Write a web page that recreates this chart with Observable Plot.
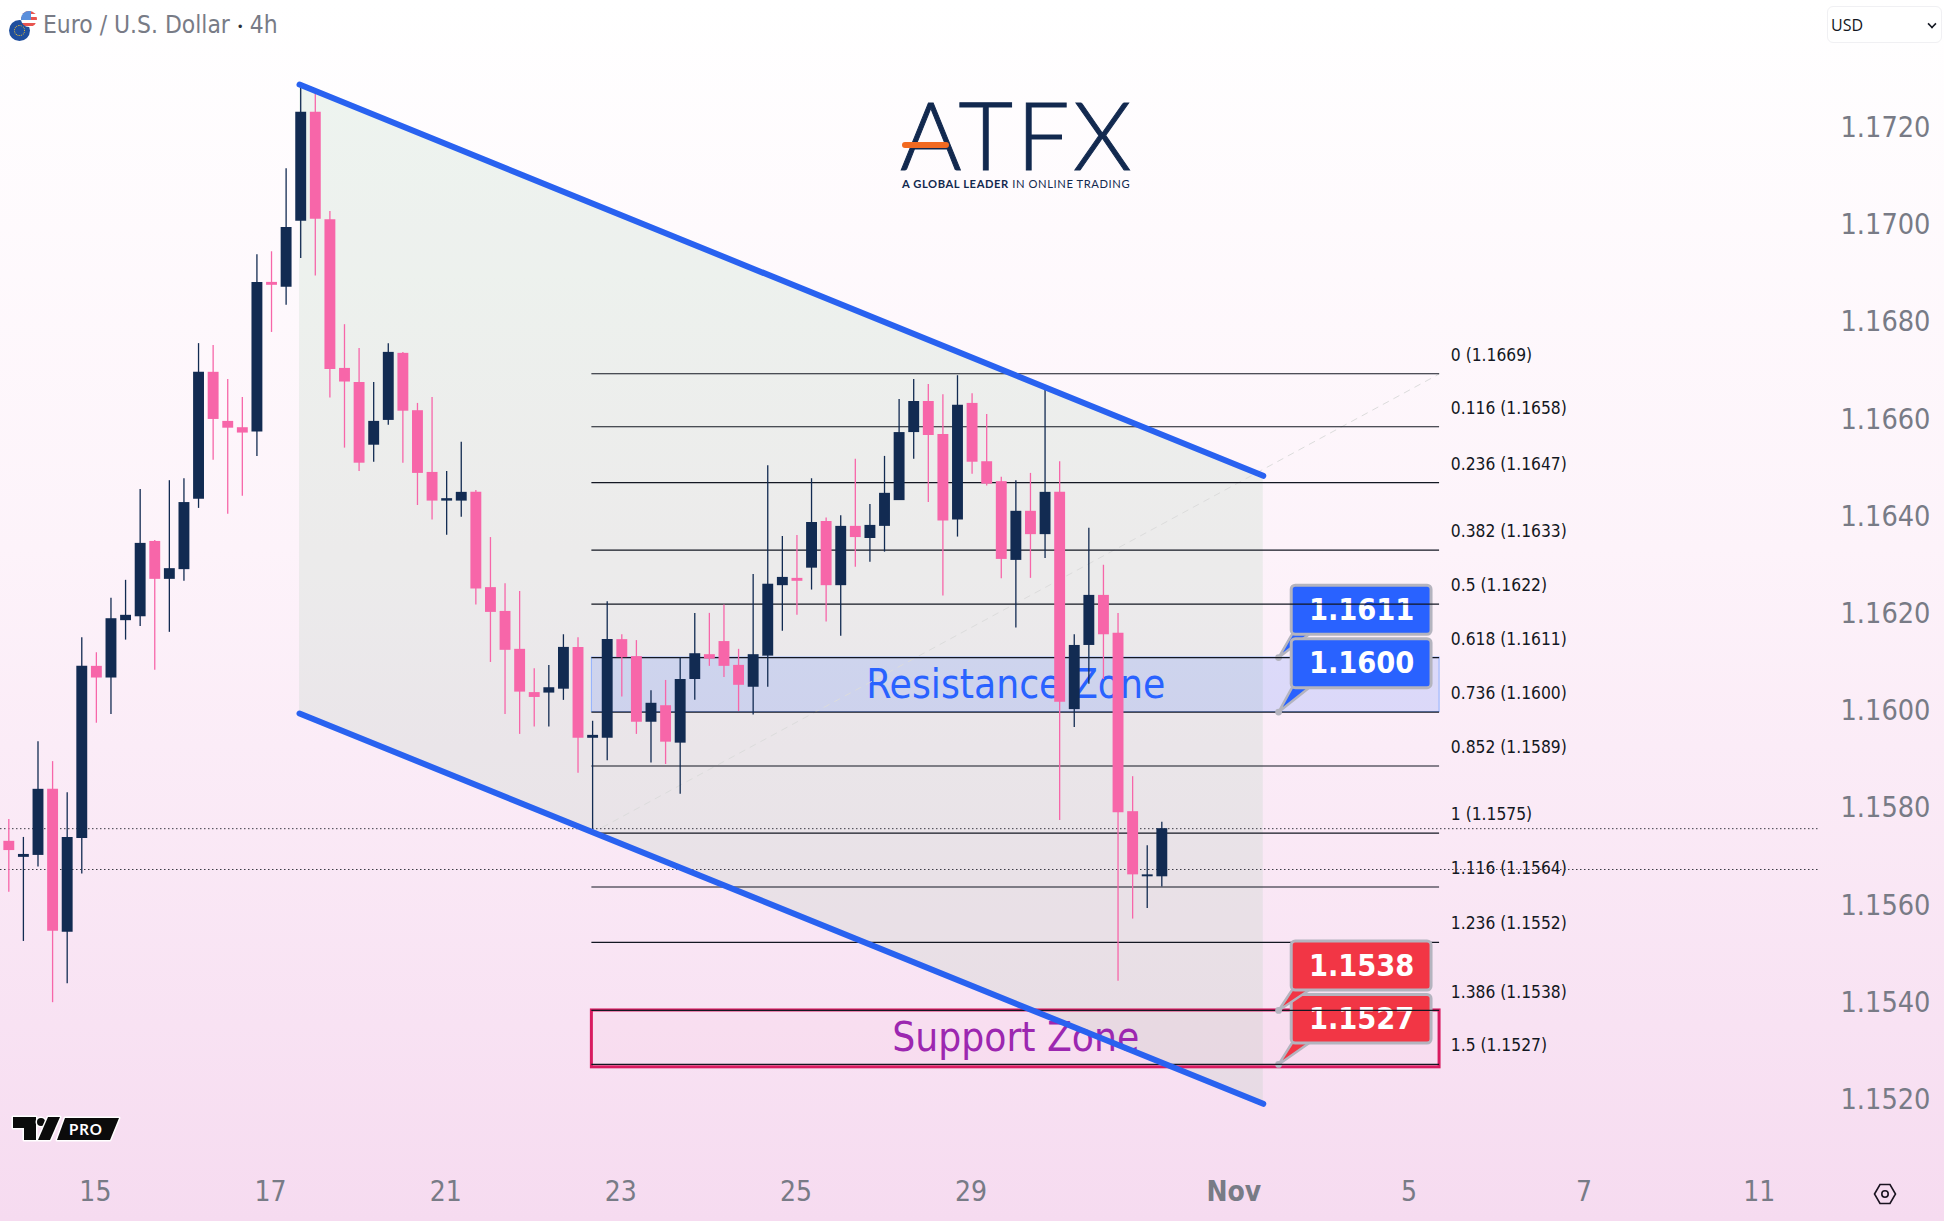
<!DOCTYPE html>
<html>
<head>
<meta charset="utf-8">
<script src="https://cdn.jsdelivr.net/npm/d3@7"></script>
<script src="https://cdn.jsdelivr.net/npm/@observablehq/plot@0.6"></script>
<style>
html,body{margin:0;padding:0;}
body{width:1944px;height:1221px;overflow:hidden;position:relative;background:linear-gradient(180deg,#ffffff 0%,#fdf3fa 45%,#f6dbf0 100%);font-family:"DejaVu Sans Condensed","DejaVu Sans",sans-serif;}
#chart{position:absolute;left:0;top:0;}
#chart svg{display:block;background:transparent;}
.ov{position:absolute;white-space:nowrap;}
</style>
</head>
<body>
<div id="chart"></div>
<div class="ov" style="left:9px;top:20px;width:21px;height:21px;border-radius:50%;background:#1f4f9e;"></div>
<div class="ov" style="left:14px;top:25px;width:11px;height:11px;border-radius:50%;border:1.5px dotted #f2c531;box-sizing:border-box;"></div>
<div class="ov" style="left:21px;top:11px;width:16px;height:16px;border-radius:50%;background:repeating-linear-gradient(180deg,#e8544f 0 3px,#ffffff 3px 6px);"></div>
<div class="ov" style="left:21px;top:11px;width:10px;height:9px;border-radius:8px 0 0 0;background:#5b8fdc;"></div>
<div class="ov" style="left:43px;top:10px;font-size:24.4px;line-height:30px;color:#787b86;">Euro / U.S. Dollar <span style="font-size:13px;color:#2a2e39;vertical-align:2px;letter-spacing:-1px;">•</span> 4h</div>
<div class="ov" style="left:1827px;top:6px;width:115px;height:37px;box-sizing:border-box;background:#fff;border:1px solid #f0f0f3;border-radius:6px;"></div>
<div class="ov" style="left:1831px;top:13px;font-size:16px;line-height:24px;color:#131722;font-family:'Open Sans',sans-serif;">USD</div>
<div class="ov" style="left:1928px;top:20px;width:6px;height:6px;border-right:2px solid #131722;border-bottom:2px solid #131722;transform:rotate(45deg) scale(.8);"></div>
<div class="ov" style="left:900px;top:96px;font-family:Lato,sans-serif;font-weight:300;font-size:94px;line-height:76px;color:#12294f;letter-spacing:3.5px;-webkit-text-stroke:1px #12294f;">ATFX</div>
<div class="ov" style="left:902px;top:142px;width:47px;height:6px;border-radius:3px;background:#f26a21;"></div>
<div class="ov" style="left:902px;top:176px;font-family:Lato,sans-serif;font-size:11.2px;line-height:16px;color:#12294f;letter-spacing:0.58px;"><b>A GLOBAL LEADER</b> IN ONLINE TRADING</div>
<svg class="ov" style="left:10px;top:1112px;" width="116" height="34" viewBox="0 0 116 34">
  <g fill="#0b0b0b" stroke="#ffffff" stroke-width="3" paint-order="stroke" stroke-linejoin="round">
    <polygon points="3,5 26,5 26,28 14,28 14,16 3,16"/>
    <circle cx="31" cy="10" r="4"/>
    <polygon points="38,5 50,5 40,28 28,28"/>
    <polygon points="55,6 109,6 100,28 47,28"/>
  </g>
  <text x="76" y="23" text-anchor="middle" font-family="Lato,sans-serif" font-weight="700" font-size="15" letter-spacing="1" fill="#ffffff">PRO</text>
</svg>
<svg class="ov" style="left:1873px;top:1183px;" width="24" height="22" viewBox="0 0 24 22">
  <polygon points="1.5,11 7,1.5 17,1.5 22.5,11 17,20.5 7,20.5" fill="none" stroke="#1a1320" stroke-width="1.6"/>
  <circle cx="12" cy="11" r="3.2" fill="none" stroke="#1a1320" stroke-width="1.6"/>
</svg>
<script>
// Candles, prices in 1/100000 of a dollar, one every 4 hours
const opens = [115730,115697,115701,115837,115543,115736,116090,116066,116184,116192,116347,116269,116289,116434,116695,116594,116581,116572,116880,116870,117006,117230,117009,116703,116674,116545,116596,116734,116616,116489,116430,116430,116448,116252,116203,116125,116036,116035,116043,116129,115942,115942,116145,116110,115975,116009,115932,116063,116114,116141,116092,116047,116111,116256,116271,116292,116388,116256,116378,116353,116378,116431,116571,116635,116567,116391,116631,116511,116470,116308,116409,116361,116448,116001,116133,116236,116158,115791,115657,115657];
const closes = [115711,115703,115837,115545,115738,116090,116066,116188,116195,116343,116269,116291,116427,116695,116598,116580,116570,116880,116874,116993,117230,117010,116701,116675,116508,116594,116736,116615,116487,116430,116435,116448,116249,116201,116123,116037,116026,116046,116129,115942,115948,116145,116108,115975,116014,115934,116063,116116,116105,116090,116051,116114,116259,116273,116265,116386,116256,116378,116355,116380,116446,116571,116635,116565,116389,116627,116510,116465,116310,116409,116361,116448,116016,116133,116236,116155,115789,115661,115661,115756];
const highs = [115775,115738,115935,115894,115830,116149,116118,116230,116267,116454,116349,116472,116476,116754,116750,116680,116643,116937,116943,117114,117285,117269,117026,116793,116744,116674,116754,116736,116631,116643,116491,116551,116452,116355,116260,116244,116085,116092,116155,116149,115977,116223,116155,116143,116040,116061,116107,116199,116199,116216,116125,116279,116503,116357,116359,116476,116395,116400,116516,116423,116522,116639,116680,116670,116649,116688,116651,116608,116479,116472,116487,116658,116511,116155,116374,116298,116199,115863,115721,115769];
const lows = [115625,115524,115677,115398,115437,115663,115973,115991,116144,116172,116082,116160,116265,116415,116514,116403,116440,116522,116777,116833,116929,116893,116642,116539,116491,116510,116586,116508,116421,116391,116360,116397,116216,116098,115991,115950,115965,115965,116020,115870,115748,115896,116027,115950,115891,115888,115827,116020,116090,116067,115997,115990,116047,116162,116195,116247,116181,116152,116294,116304,116325,116431,116516,116427,116235,116356,116485,116461,116270,116169,116271,116312,115773,115964,116053,116063,115442,115570,115592,115636];

// Fibonacci levels
const fibRatios = ["0","0.116","0.236","0.382","0.5","0.618","0.736","0.852","1","1.116","1.236","1.386","1.5"];
const fibLabels = ["1.1669","1.1658","1.1647","1.1633","1.1622","1.1611","1.1600","1.1589","1.1575","1.1564","1.1552","1.1538","1.1527"];
const fibPrices = [116692,116583,116468,116329,116218,116108,115996,115885,115747,115636,115522,115382,115271];
const fibStart = 39.95, fibEnd = 98.03, fibLabelAt = 98.8;

// Descending channel
const channelIdx = [19.92, 85.95];
const channelUpper = [117287, 116482];
const channelLower = [115993, 115190];

// Axes
const yTicks = [1.152,1.154,1.156,1.158,1.16,1.162,1.164,1.166,1.168,1.17,1.172];
const xTicks = [6,18,30,42,54,66,96,108,120];
const xTickLabels = ["15","17","21","23","25","29","5","7","11"];
const novTick = 84;

// Callouts
const calloutText = ["1.1611","1.1600","1.1538","1.1527"];
const calloutTop = [116256,116146,115524,115414];
const calloutBottom = [116155,116045,115423,115314];
const calloutTip = [116108,115996,115382,115271];
const calloutColor = ["#2962ff","#2962ff","#f23645","#f23645"];
const calloutLeft = 87.9, calloutRight = 97.48, calloutTipAt = 87.0, calloutBaseEnd = 89.05;

// Price lines and zones
const priceLines = [115756, 115672];
const resistance = [115996, 116108], support = [115265, 115382];

const P = v => v / 1e5;
const candles = opens.map((o, i) => ({i, open:P(o), close:P(closes[i]), high:P(highs[i]), low:P(lows[i]), up:closes[i] >= o}));
const navy = "#122b52", pink = "#f766a9";
const fib = fibPrices.map((p, k) => ({price:P(p), label:`${fibRatios[k]} (${fibLabels[k]})`}));
const channel = channelIdx.map((x, k) => ({x, upper:P(channelUpper[k]), lower:P(channelLower[k])}));
const FONT = '"DejaVu Sans Condensed","DejaVu Sans",sans-serif';
const callout = k => {
  const top = P(calloutTop[k]), bottom = P(calloutBottom[k]), tip = P(calloutTip[k]), c = calloutColor[k], b = "#b4b4bf";
  const tail = [{x:calloutLeft,y:bottom},{x:calloutTipAt,y:tip},{x:calloutBaseEnd,y:bottom}];
  return [
    Plot.line(tail,{x:"x",y:"y",fill:c,stroke:b,strokeWidth:2.5}),
    Plot.dot([tail[1]],{x:"x",y:"y",r:3.4,fill:b}),
    Plot.rect([{}],{x1:calloutLeft,x2:calloutRight,y1:bottom,y2:top,fill:c,stroke:b,strokeWidth:3,rx:4}),
    Plot.text([calloutText[k]],{x:(calloutLeft+calloutRight)/2,y:(top+bottom)/2,text:d=>d,fill:"#fff",fontSize:30.4,fontWeight:700,fontFamily:FONT})
  ];
};

const chart = Plot.plot({
  width:1944, height:1221,
  marginLeft:0, marginRight:124, marginTop:0, marginBottom:56,
  style:{background:"transparent",fontFamily:FONT},
  x:{domain:[-0.569,124.13]},
  y:{domain:[1.15063,1.1746]},
  marks:[
    Plot.areaY(channel,{x:"x",y1:"lower",y2:"upper",fill:"#8ac49c",fillOpacity:0.15}),
    Plot.rect([{}],{x1:fibStart,x2:fibEnd,y1:P(resistance[0]),y2:P(resistance[1]),fill:"#2962ff",fillOpacity:0.15,stroke:"#8fb0ff",strokeWidth:1}),
    Plot.rect([{}],{x1:fibStart,x2:fibEnd,y1:P(support[0]),y2:P(support[1]),fill:"#e91e63",fillOpacity:0.02,stroke:"#d81b60",strokeWidth:3}),
    Plot.text(["Resistance Zone"],{x:(fibStart+fibEnd)/2,y:P((resistance[0]+resistance[1])/2),text:d=>d,fill:"#2962ff",fontSize:40.3,fontFamily:FONT}),
    Plot.text(["Support Zone"],{x:(fibStart+fibEnd)/2,y:P(115325),text:d=>d,fill:"#9c27b0",fontSize:40.3,fontFamily:FONT}),
    Plot.line([{x:fibStart,y:P(fibPrices[8])},{x:fibEnd,y:P(fibPrices[0])}],{x:"x",y:"y",stroke:"#dcdcdc",strokeWidth:1,strokeDasharray:"6 6"}),
    ...callout(0), ...callout(3),
    Plot.ruleY(fib,{y:"price",x1:fibStart,x2:fibEnd,stroke:"#131722",strokeWidth:1.2}),
    Plot.text(fib,{x:fibLabelAt,y:"price",text:"label",textAnchor:"start",dy:-18.5,fontSize:17.3,fill:"#131722",fontFamily:FONT}),
    ...callout(1), ...callout(2),
    Plot.ruleY(priceLines,{y:d=>P(d),stroke:"#3a3a44",strokeWidth:1,strokeDasharray:"1.5 2.5"}),
    Plot.ruleX(candles,{x:"i",y1:"low",y2:"high",stroke:d=>d.up?navy:pink,strokeWidth:1.3}),
    Plot.ruleX(candles,{x:"i",y1:"open",y2:"close",stroke:d=>d.up?navy:pink,strokeWidth:10.9}),
    Plot.line(channel,{x:"x",y:"upper",stroke:"#2962f0",strokeWidth:6,strokeLinecap:"round"}),
    Plot.line(channel,{x:"x",y:"lower",stroke:"#2962f0",strokeWidth:6,strokeLinecap:"round"}),
    Plot.axisY({anchor:"right",ticks:yTicks,tickSize:0,tickPadding:20,dy:1,tickFormat:d=>d.toFixed(4),fontSize:28.6,fill:"#787b86",label:null,fontFamily:FONT}),
    Plot.axisX({ticks:xTicks,tickSize:0,tickPadding:15.5,dx:-1,tickFormat:d=>xTickLabels[xTicks.indexOf(d)],fontSize:28,fill:"#787b86",label:null,fontFamily:FONT}),
    Plot.axisX({ticks:[novTick],tickSize:0,tickPadding:15.5,dx:-1,tickFormat:()=>"Nov",fontSize:28,fontWeight:700,fill:"#787b86",label:null,fontFamily:FONT})
  ]
});
document.getElementById("chart").append(chart);
</script>
</body>
</html>
